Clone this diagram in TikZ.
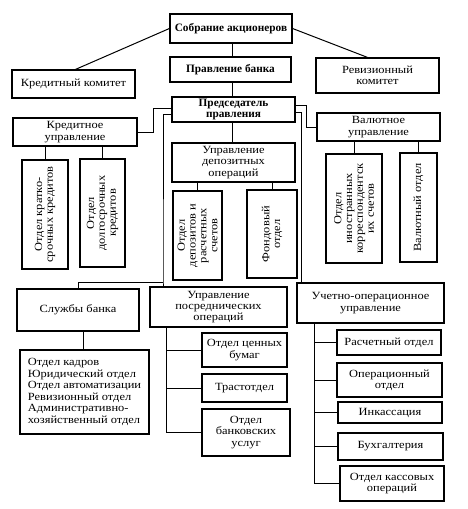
\documentclass[tikz,border=0pt]{standalone}
\usepackage{fontspec}
\setmainfont{Liberation Serif}[FakeStretch=1.13]
\newfontfamily\bfam{Liberation Serif}
\newcommand\mkbox[7]{\node[#1, minimum width={#5-#3}, minimum height={#6-#4}] (#2) at ({(#3+#5)/2},{(#4+#6)/2}) {#7};}
\begin{document}
\begin{tikzpicture}[x=1pt,y=-1pt,
  box/.style={draw, line width=1.2pt, align=center, inner sep=1pt, font=\fontsize{11}{11.3}\selectfont},
  bbox/.style={box, font=\bfam\bfseries\fontsize{11.3}{11.5}\selectfont},
  ebox/.style={draw, line width=1.2pt, inner sep=0pt},
  conn/.style={line width=1pt},
  vtext/.style={rotate=90, align=center, inner sep=0pt, font=\fontsize{11}{10.8}\selectfont}]
\useasboundingbox[fill=white] (0,0) rectangle (467,509);

\mkbox{bbox}{sobr}{170}{14}{292}{43}{Собрание акционеров}
\mkbox{bbox}{prav}{170}{57}{291}{82}{Правление банка}
\mkbox{box}{kredkom}{12}{70}{135}{98}{Кредитный комитет}
\mkbox{box}{reviz}{316}{58}{439}{93}{Ревизионный\\комитет}
\mkbox{bbox}{pred}{172}{97}{295}{122}{Председатель\\правления}
\mkbox{box}{kredupr}{13}{118}{137}{146}{Кредитное\\управление}
\mkbox{box}{depupr}{172}{143}{295}{182}{Управление\\депозитных\\операций}
\mkbox{box}{valupr}{317}{113}{440}{141}{Валютное\\управление}

\mkbox{ebox}{kratk}{22}{160}{68}{269}{}
\mkbox{ebox}{dolg}{80}{159}{125}{267}{}
\mkbox{ebox}{depots}{173}{191}{222}{280}{}
\mkbox{ebox}{fond}{247}{190}{297}{278}{}
\mkbox{ebox}{inostr}{326}{154}{382}{263}{}
\mkbox{ebox}{valotd}{400}{153}{437}{262}{}
\node[vtext] (kratkT) at (kratk) {Отдел кратко-\\срочных кредитов};
\node[vtext] (dolgT) at (dolg) {Отдел\\долгосрочных\\кредитов};
\node[vtext] (depotsT) at (depots) {Отдел\\депозитов и\\расчетных\\счетов};
\node[vtext] (fondT) at (fond) {Фондовый\\отдел};
\node[vtext] (inostrT) at (inostr) {Отдел\\иностранных\\корреспондентск\\их счетов};
\node[vtext] (valotdT) at (valotd) {Валютный отдел};

\mkbox{box}{sluzhby}{17}{289}{139}{331}{Службы банка}
\mkbox{box}{posr}{150}{287}{287}{327}{Управление\\посреднических\\операций}
\mkbox{box}{uchet}{297}{283}{444}{323}{Учетно-операционное\\управление}
\node[box, align=left, minimum width=129, minimum height=84, font=\fontsize{11}{11.6}\selectfont] (list) at (84.5,392) {Отдел кадров\\Юридический отдел\\Отдел автоматизации\\Ревизионный отдел\\Административно-\\хозяйственный отдел};
\mkbox{box}{cenn}{202}{333}{287}{367}{Отдел ценных\\бумаг}
\mkbox{box}{trast}{202}{374}{287}{402}{Трастотдел}
\mkbox{box}{bankusl}{202}{409}{290}{456}{Отдел\\банковских\\услуг}
\mkbox{box}{rasch}{337}{330}{441}{355}{Расчетный отдел}
\mkbox{box}{oper}{337}{363}{442}{397}{Операционный\\отдел}
\mkbox{box}{inkas}{338}{402}{442}{423}{Инкассация}
\mkbox{box}{buh}{338}{433}{443}{460}{Бухгалтерия}
\mkbox{box}{kass}{340}{466}{444}{501}{Отдел кассовых\\операций}

% connectors
\draw[conn] (sobr.west) -- ([xshift=2pt]kredkom.north);
\draw[conn] (sobr.east) -- ([xshift=-10pt]reviz.north);
\draw[conn] ([xshift=1pt]sobr.south) -- ([xshift=1pt]sobr.south |- prav.north);
\draw[conn] ([xshift=1.5pt]prav.south) -- ([xshift=1.5pt]prav.south |- pred.north);
\draw[conn] ([xshift=-1.5pt]pred.south) -- ([xshift=-1.5pt]pred.south |- depupr.north);

\draw[conn] ([yshift=1.5pt]pred.west) -| ([xshift=16pt]kredupr.east) -- (kredupr.east);
\coordinate (jL) at (163,282);
\draw[conn] ([yshift=-4.5pt]pred.west) -| (jL) -- (jL |- posr.north);
\draw[conn] (jL) -| (sluzhby.north);
\draw[conn] ([yshift=4.5pt]pred.east) -| ([xshift=-10pt]valupr.west) -- (valupr.west);
\draw[conn] ([yshift=-2.5pt]pred.east) -| ([xshift=5pt]uchet.north west);

\foreach \c in {kratk,dolg} \draw[conn] (\c.north) -- (\c.north |- kredupr.south);
\foreach \c in {depots,fond} \draw[conn] (\c.north) -- (\c.north |- depupr.south);
\foreach \c in {inostr,valotd} \draw[conn] (\c.north) -- (\c.north |- valupr.south);

\draw[conn] ([xshift=5pt]sluzhby.south) -- ([xshift=5pt]sluzhby.south |- list.north);

\coordinate (pb) at ([xshift=17pt]posr.south west);
\draw[conn] (pb) |- (bankusl.west);
\foreach \c in {cenn,trast} \draw[conn] (pb |- \c.west) -- (\c.west);

\coordinate (ub) at ([xshift=18pt]uchet.south west);
\draw[conn] (ub) |- (kass.west);
\foreach \c in {rasch,oper,inkas,buh} \draw[conn] (ub |- \c.west) -- (\c.west);
\end{tikzpicture}
\end{document}
